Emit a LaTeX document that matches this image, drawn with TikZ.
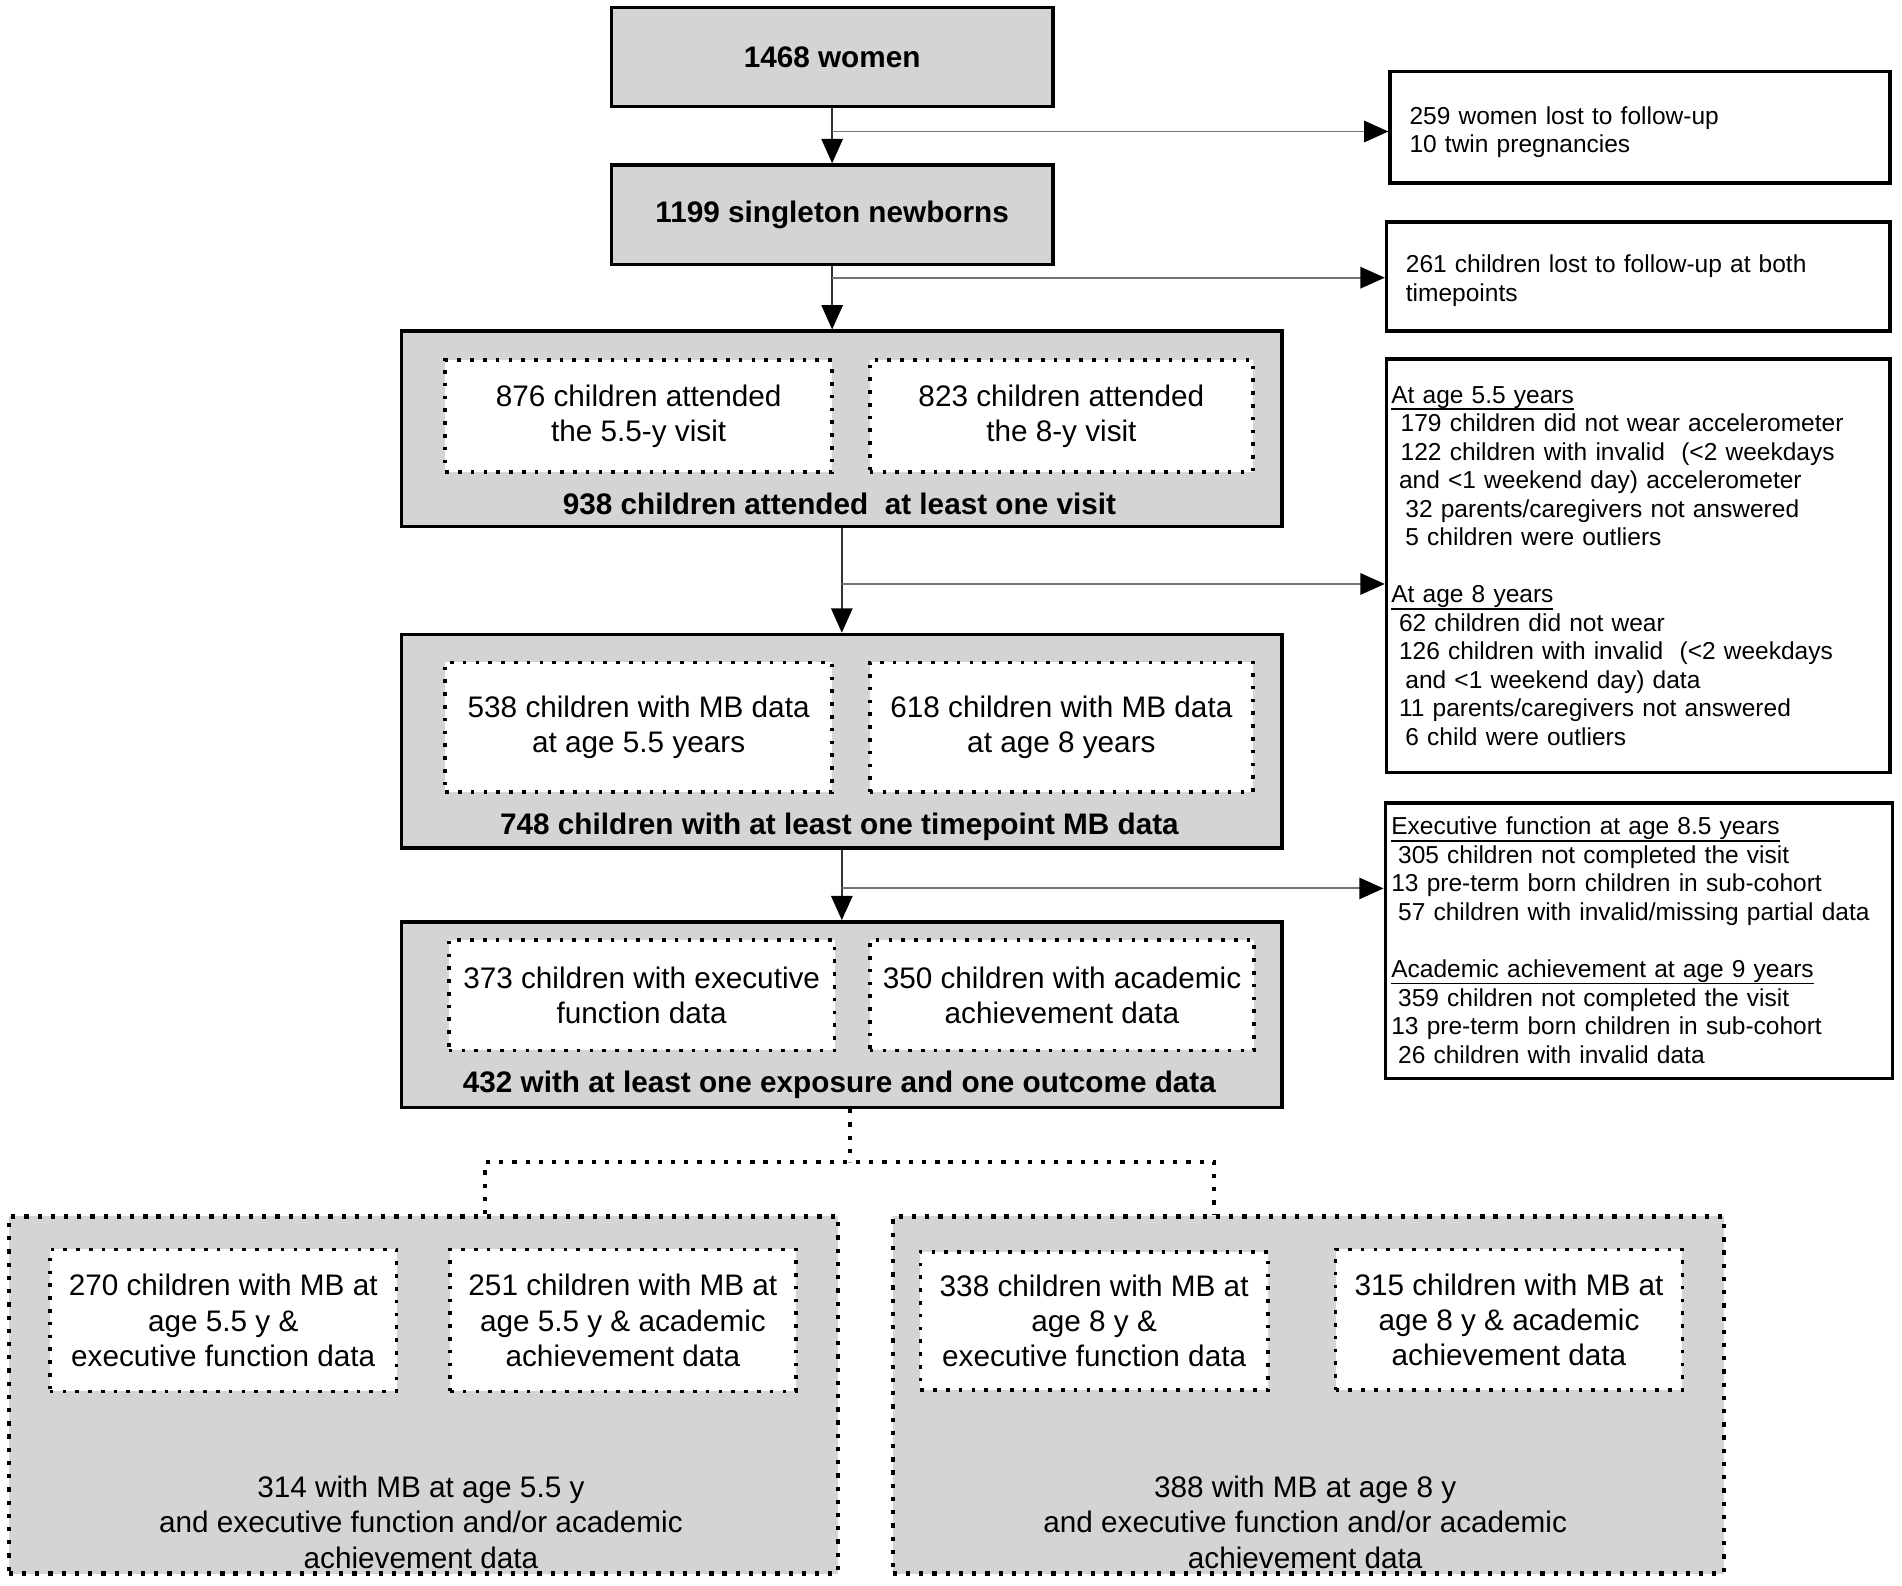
\documentclass[tikz,border=0pt]{standalone}
\usepackage{fontspec}
\setmainfont{Liberation Sans}
\usepackage{tikz}
\usetikzlibrary{arrows.meta}
\definecolor{boxgray}{gray}{0.83}
\newcommand{\headline}[1]{\underline{\smash{#1}\vphantom{A}}}

\begin{document}
\begin{tikzpicture}[
	graybox/.style={draw,line width=0.8pt,fill=boxgray,inner sep=0pt},
	sidebox/.style={draw,line width=0.8pt,fill=white,align=left,inner ysep=0pt,font=\fontsize{5.75pt}{6.69pt}\selectfont},
	dotbox/.style={draw,line width=0.85pt,dash pattern=on 0.85pt off 2.15pt,fill=white,align=center,inner sep=0pt,font=\fontsize{6.97pt}{8.25pt}\selectfont},
	groupbox/.style={draw,line width=1pt,dash pattern=on 1pt off 2.1pt,fill=boxgray,inner sep=0pt},
	boldtext/.style={font=\fontsize{6.97pt}{8.25pt}\selectfont\bfseries},
	plaintext/.style={align=center,font=\fontsize{6.97pt}{8.25pt}\selectfont},
	mainarrow/.style={draw=black!80,line width=0.4pt,-{Triangle[length=5.7pt,width=5pt,color=black]}},
	sidearrow/.style={draw=black!55,line width=0.45pt,-{Triangle[length=5.7pt,width=5pt,color=black]}},
	dotline/.style={line width=1pt,dash pattern=on 1pt off 2.1pt}
	]
	\useasboundingbox (0,0) rectangle (15.68,-13.07);
	
	\node[graybox,boldtext,minimum width=3.64cm,minimum height=0.82cm] (a) at (6.86,-0.47) {1468 women};
	\node[graybox,boldtext,minimum width=3.64cm,minimum height=0.82cm] (b) at (6.86,-1.77) {1199 singleton newborns};
	
	\node[graybox,minimum width=7.26cm,minimum height=1.61cm] (c) at (6.94,-3.535) {};
	\node[dotbox,minimum width=3.19cm,minimum height=0.92cm] (c1) at (5.265,-3.43) {876 children attended\\the 5.5-y visit};
	\node[dotbox,minimum width=3.16cm,minimum height=0.92cm] (c2) at (8.75,-3.43) {823 children attended\\the 8-y visit};
	\node[boldtext] (clab) at (6.92,-4.15) {938 children attended\ \ at least one visit};
	
	\node[graybox,minimum width=7.26cm,minimum height=1.76cm] (d) at (6.94,-6.11) {};
	\node[dotbox,minimum width=3.19cm,minimum height=1.07cm] (d1) at (5.265,-5.995) {538 children with MB data\\at age 5.5 years};
	\node[dotbox,minimum width=3.16cm,minimum height=1.07cm] (d2) at (8.75,-5.995) {618 children with MB data\\at age 8 years};
	\node[boldtext] (dlab) at (6.92,-6.82) {748 children with at least one timepoint MB data};
	
	\node[graybox,minimum width=7.26cm,minimum height=1.53cm] (e) at (6.94,-8.365) {};
	\node[dotbox,minimum width=3.18cm,minimum height=0.91cm] (e1) at (5.29,-8.205) {373 children with executive\\function data};
	\node[dotbox,minimum width=3.17cm,minimum height=0.91cm] (e2) at (8.755,-8.205) {350 children with academic\\achievement data};
	\node[boldtext] (elab) at (6.92,-8.946) {432 with at least one exposure and one outcome data};
	
	\node[sidebox,text width=3.80cm,inner xsep=1.6mm,minimum height=0.92cm] (r1) at (13.52,-1.05) {\rule{0pt}{6.5pt}259 women lost to follow-up\\10 twin pregnancies};
	\node[sidebox,text width=3.83cm,inner xsep=1.6mm,minimum height=0.90cm] (r2) at (13.505,-2.28) {\rule{0pt}{6.2pt}261 children lost to follow-up at both\\timepoints};
	\node[sidebox,text width=4.07cm,inner xsep=0.4mm,minimum height=3.41cm] (r3) at (13.505,-4.665) {\headline{At age 5.5 years}\\
		\hspace*{2.2pt}179 children did not wear accelerometer\\
		\hspace*{2.2pt}122 children with invalid\ \ (<2 weekdays\\
		\hspace*{1.8pt}and <1 weekend day) accelerometer\\
		\hspace*{3.3pt}32 parents/caregivers not answered\\
		\hspace*{3.3pt}5 children were outliers\\[6.69pt]
		\headline{At age 8 years}\\
		\hspace*{1.8pt}62 children did not wear\\
		\hspace*{1.8pt}126 children with invalid\ \ (<2 weekdays\\
		\hspace*{3.3pt}and <1 weekend day) data\\
		\hspace*{1.8pt}11 parents/caregivers not answered\\
		\hspace*{3.3pt}6 child were outliers};
	\node[sidebox,text width=4.08cm,inner xsep=0.5mm,minimum height=2.27cm] (r4) at (13.51,-7.755) {\headline{Executive function at age 8.5 years}\\
		\hspace*{1.6pt}305 children not completed the visit\\
		13 pre-term born children in sub-cohort\\
		\hspace*{1.6pt}57 children with invalid/missing partial data\\[6.69pt]
		\headline{Academic achievement at age 9 years}\\
		\hspace*{1.6pt}359 children not completed the visit\\
		13 pre-term born children in sub-cohort\\
		\hspace*{1.6pt}26 children with invalid data};
	
	\node[groupbox,minimum width=6.835cm,minimum height=2.945cm] (f) at (3.49,-11.5) {};
	\node[dotbox,minimum width=2.86cm,minimum height=1.17cm] (f1) at (1.84,-10.885) {270 children with MB at\\age 5.5 y \&\\executive function data};
	\node[dotbox,minimum width=2.85cm,minimum height=1.17cm] (f2) at (5.135,-10.885) {251 children with MB at\\age 5.5 y \& academic\\achievement data};
	\node[plaintext] (ftxt) at (3.47,-12.55) {314 with MB at age 5.5 y\\and executive function and/or academic\\achievement data};
	
	\node[groupbox,minimum width=6.85cm,minimum height=2.945cm] (g) at (10.785,-11.5) {};
	\node[dotbox,minimum width=2.865cm,minimum height=1.14cm] (g1) at (9.02,-10.89) {338 children with MB at\\age 8 y \&\\executive function data};
	\node[dotbox,minimum width=2.86cm,minimum height=1.16cm] (g2) at (12.44,-10.88) {315 children with MB at\\age 8 y \& academic\\achievement data};
	\node[plaintext] (gtxt) at (10.76,-12.55) {388 with MB at age 8 y\\and executive function and/or academic\\achievement data};
	
	\draw[mainarrow] (a.south) -- (a.south |- b.north);
	\draw[mainarrow] (b.south) -- (b.south |- c.north);
	\draw[mainarrow] (c.south) -- (c.south |- d.north);
	\draw[mainarrow] (d.south) -- (d.south |- e.north);
	
	\coordinate (j1) at ([yshift=-1.9mm]a.south);
	\coordinate (j2) at ([yshift=-0.95mm]b.south);
	\coordinate (j3) at ([yshift=-4.6mm]c.south);
	\coordinate (j4) at ([yshift=-3.2mm]d.south);
	\draw[sidearrow] (j1) -- (j1 -| r1.west);
	\draw[sidearrow] (j2) -- (j2 -| r2.west);
	\draw[sidearrow] (j3) -- (j3 -| r3.west);
	\draw[sidearrow] (j4) -- (j4 -| r4.west);
	
	\coordinate (split) at (7.01,-9.58);
	\coordinate (fl) at (4.00,-9.58);
	\coordinate (gr) at (10.01,-9.58);
	\draw[dotline] (split |- e.south) -- (split);
	\draw[dotline] (fl |- f.north) -- (fl) -- (gr) -- (gr |- g.north);
	
\end{tikzpicture}
\end{document}
